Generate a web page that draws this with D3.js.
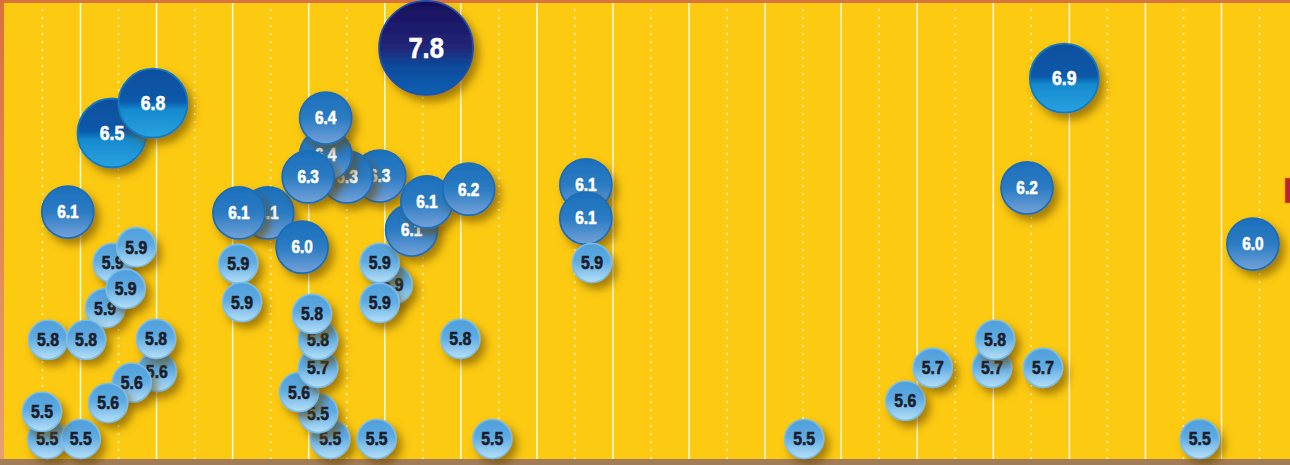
<!DOCTYPE html>
<html>
<head>
<meta charset="utf-8">
<script src="https://cdn.jsdelivr.net/npm/d3@7"></script>
<style>
    html, body { margin: 0; padding: 0; background: #fff; }
    #viz-quakes { width: 1290px; height: 465px; }
</style>
</head>
<body>
<div id="viz-quakes"></div>
<script>
// Bubble data, listed in drawing order (later = on top)
// when: decimal year, mag: magnitude, stack: vertical stacking level (0 = baseline)
const when = [
    2000.42, 2000.96, 1999.84,
    2000.43, 2000.74, 2000.33, 2000.60,
    1999.58, 2000.08, 2001.01, 2001.00, 2000.68, 2000.37,
    1999.57, 2000.01, 1999.50,
    2002.47, 2002.09, 2002.92, 2002.08, 2002.13,
    2003.94, 2003.51, 2003.23, 2003.23, 2003.00,
    2003.29, 2003.13, 2002.88, 2003.13, 2003.13, 2003.05, 2003.90,
    2004.11, 2003.94, 2003.94,
    2004.55, 2004.36, 2004.56, 2005.11, 2005.00, 2005.42,
    2006.65, 2006.65, 2006.73,
    2009.52, 2010.85, 2011.21, 2011.99, 2012.03, 2012.66,
    2012.45, 2012.94, 2014.72, 2015.42
];
const mag = [
    6.5, 6.8, 6.1,
    5.9, 5.9, 5.9, 5.9,
    5.8, 5.8, 5.6, 5.8, 5.6, 5.6,
    5.5, 5.5, 5.5,
    6.1, 6.1, 6.0, 5.9, 5.9,
    6.3, 6.3, 6.4, 6.4, 6.3,
    5.5, 5.5, 5.6, 5.7, 5.8, 5.8, 5.5,
    5.9, 5.9, 5.9,
    7.8, 6.1, 6.1, 6.2, 5.8, 5.5,
    6.1, 6.1, 5.9,
    5.5, 5.6, 5.7, 5.7, 5.8, 5.7,
    6.2, 6.9, 5.5, 6.0
];
const stack = [
    69.7, 76.5, 51.7,
    40.1, 43.7, 29.8, 34.2,
    22.6, 22.6, 15.3, 22.8, 12.8, 8.2,
    0, 0, 6.2,
    51.5, 51.5, 43.7, 39.9, 31.2,
    59.9, 59.7, 64.7, 73.1, 59.7,
    0, 5.9, 10.7, 16.2, 22.6, 28.5, 0,
    35.1, 40.1, 31.0,
    89.1, 47.6, 54.0, 56.9, 22.8, 0,
    57.9, 50.3, 40.1,
    0, 8.7, 16.2, 16.2, 22.6, 16.2,
    57.2, 82.2, 0, 44.4
];
// Grid: one solid line per year, dotted at mid-year
const yearTicks = d3.range(2000, 2016);
const halfTicks = d3.range(1999.5, 2016, 1);

// Magnitude classes
const classBreaks = [6.0, 6.5, 7.0];
const classRadius = [19.5, 26, 34.5, 47];
const classFont = [18, 17.5, 20, 29];
const classText = ['#1b1d2b', '#ffffff', '#ffffff', '#ffffff'];
const classStroke = ['#79bdea', '#1a6db6', '#0b7bc4', '#1c4fae'];

function drawQuakes() {
    const container = d3.select('#viz-quakes');
    const W = 1290, H = 465;

    const svg = container.append('svg')
        .attr('width', W)
        .attr('height', H);

    const defs = svg.append('defs');

    // Gradients for each magnitude class
    const grads = [
        [[0, '#4f9fdb'], [0.45, '#5eaae2'], [1, '#b6e0f8']],
        [[0, '#1c70bb'], [0.5, '#2a7bc3'], [1, '#74a2d8']],
        [[0, '#0a4f9e'], [0.47, '#0759a9'], [0.6, '#168bcf'], [1, '#2aa2e0']],
        [[0, '#170f5c'], [0.5, '#232678'], [0.7, '#0b4a9b'], [1, '#0a60b4']]
    ];
    grads.forEach((stops, i) => {
        const lg = defs.append('linearGradient')
            .attr('id', 'bub' + i)
            .attr('x1', 0).attr('y1', 0).attr('x2', 0).attr('y2', 1);
        stops.forEach(s => lg.append('stop').attr('offset', s[0]).attr('stop-color', s[1]));
    });

    const frame = defs.append('linearGradient')
        .attr('id', 'leftEdge').attr('x1', 0).attr('y1', 0).attr('x2', 0).attr('y2', 1);
    frame.append('stop').attr('offset', 0).attr('stop-color', '#d9703c');
    frame.append('stop').attr('offset', 1).attr('stop-color', '#e8a070');

    const shadow = defs.append('filter')
        .attr('id', 'drop')
        .attr('x', '-40%').attr('y', '-40%')
        .attr('width', '190%').attr('height', '190%');
    shadow.append('feDropShadow')
        .attr('dx', 5).attr('dy', 6)
        .attr('stdDeviation', 4.5)
        .attr('flood-color', '#6b4800')
        .attr('flood-opacity', 0.6);

    // Frame and background
    svg.append('rect').attr('width', W).attr('height', H).attr('fill', '#d8743e');
    svg.append('rect').attr('x', 0).attr('y', 0).attr('width', 5).attr('height', H).attr('fill', 'url(#leftEdge)');
    svg.append('rect').attr('x', 0).attr('y', 459).attr('width', W).attr('height', 6).attr('fill', '#a27c57');
    svg.append('rect')
        .attr('x', 4).attr('y', 3)
        .attr('width', W - 4).attr('height', 456)
        .attr('fill', '#fcca11');

    // Scales
    const x = d3.scaleLinear().domain([2000, 2015]).range([80, 1221]);
    const y = d3.scaleLinear().domain([0, 100]).range([439, 0]);
    const cls = d3.scaleThreshold().domain(classBreaks).range([0, 1, 2, 3]);

    const plotTop = 3, plotBottom = 459;

    // Dotted half-year grid
    svg.append('g')
        .attr('transform', `translate(0,${plotBottom})`)
        .call(d3.axisBottom(x).tickValues(halfTicks).tickSize(-(plotBottom - plotTop)).tickFormat(''))
        .call(g => g.select('.domain').remove())
        .selectAll('line')
        .attr('stroke', '#fff8e0')
        .attr('stroke-width', 1.4)
        .attr('stroke-dasharray', '2,6');

    // Solid year grid
    svg.append('g')
        .attr('transform', `translate(0,${plotBottom})`)
        .call(d3.axisBottom(x).tickValues(yearTicks).tickSize(-(plotBottom - plotTop)).tickFormat(''))
        .call(g => g.select('.domain').remove())
        .selectAll('line')
        .attr('stroke', '#fffbe8')
        .attr('stroke-width', 1.5);

    // Small red marker on the right edge
    svg.append('rect')
        .attr('x', 1285).attr('y', 178)
        .attr('width', 6).attr('height', 25)
        .attr('fill', '#b8262b')
        .attr('stroke', '#e07a35')
        .attr('stroke-width', 0.8);

    const data = when.map((t, i) => ({ t, m: mag[i], s: stack[i] }));

    // Bubbles
    const bubbles = svg.append('g').selectAll('g.quake')
        .data(data)
        .enter()
        .append('g')
        .attr('class', 'quake')
        .attr('transform', d => `translate(${x(d.t)},${y(d.s)})`);

    bubbles.append('circle')
        .attr('r', d => classRadius[cls(d.m)])
        .attr('fill', d => `url(#bub${cls(d.m)})`)
        .attr('stroke', d => classStroke[cls(d.m)])
        .attr('stroke-width', d => cls(d.m) === 0 ? 1.6 : 1.8)
        .attr('filter', 'url(#drop)');

    // Condensed-looking heavy labels
    bubbles.append('text')
        .attr('text-anchor', 'middle')
        .attr('dy', '0.36em')
        .attr('transform', 'scale(0.88,1)')
        .style('font-family', '"Liberation Sans", Arial, sans-serif')
        .style('font-weight', '700')
        .style('font-size', d => classFont[cls(d.m)] + 'px')
        .style('fill', d => classText[cls(d.m)])
        .style('stroke', d => classText[cls(d.m)])
        .style('stroke-width', 0.6)
        .text(d => d.m.toFixed(1));
}

drawQuakes();
</script>
</body>
</html>
